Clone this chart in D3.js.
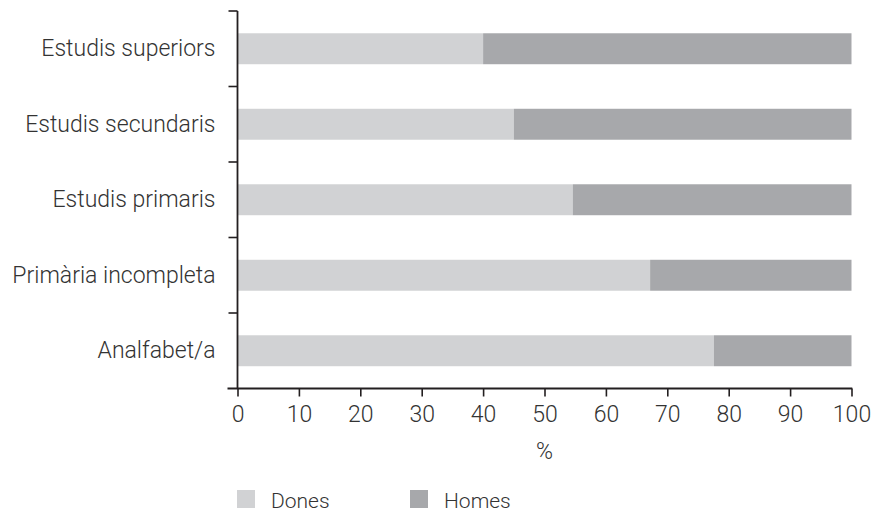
<!DOCTYPE html>
<html>
<head>
<meta charset="utf-8">
<script src="https://cdn.jsdelivr.net/npm/d3@7"></script>
<style>
  html, body { margin: 0; padding: 0; background: #fff; }
  svg { display: block; }
  text { font-family: Roboto, "Liberation Sans", Arial, sans-serif; font-weight: 300; fill: #333; }
</style>
</head>
<body>
<svg id="chart" width="875" height="513"></svg>
<script>
const categories = ["Estudis superiors", "Estudis secundaris", "Estudis primaris", "Primària incompleta", "Analfabet/a"];
const dones = [40.0, 45.0, 54.6, 67.2, 77.6];
const homes = [60.0, 55.0, 45.4, 32.8, 22.4];
const seriesNames = ["Dones", "Homes"];
const seriesColors = ["#d1d2d4", "#a7a8ab"];
const xTicks = [0, 10, 20, 30, 40, 50, 60, 70, 80, 90, 100];
const xLabel = "%";

const svg = d3.select("#chart");
const mLeft = 237.5, mRight = 851.5, mTop = 11, mBottom = 388.5;

const x = d3.scaleLinear().domain([0, 100]).range([mLeft, mRight]);
const y = d3.scaleBand().domain(categories).range([mTop, mBottom])
  .paddingInner(0.59).paddingOuter(0.295);

const rows = categories.map((c, i) => ({ cat: c, vals: [dones[i], homes[i]] }));
const stacked = d3.stack().keys([0, 1]).value((d, k) => d.vals[k])(rows);

svg.append("g").selectAll("g").data(stacked).join("g")
  .attr("fill", (d, i) => seriesColors[i])
  .selectAll("rect").data(d => d).join("rect")
  .attr("x", d => x(d[0]))
  .attr("width", d => x(Math.min(d[1], 100)) - x(d[0]))
  .attr("y", d => y(d.data.cat))
  .attr("height", y.bandwidth());

const ff = "Roboto, 'Liberation Sans', Arial, sans-serif";

// x axis
const xAxis = svg.append("g").attr("transform", `translate(0,${mBottom})`)
  .call(d3.axisBottom(x).tickValues(xTicks).tickSize(8).tickPadding(9).tickFormat(d3.format("d")));
xAxis.select(".domain").remove();
xAxis.selectAll(".tick line").attr("stroke", "#231f20").attr("stroke-width", 1.6);
xAxis.selectAll(".tick text").attr("font-size", 23).attr("fill", "#333")
  .style("font-family", ff).style("font-weight", 300);
svg.append("line").attr("x1", mLeft - 10).attr("x2", mRight + 0.8)
  .attr("y1", mBottom).attr("y2", mBottom).attr("stroke", "#231f20").attr("stroke-width", 1.8);

// y axis
const yAxis = svg.append("g").attr("transform", `translate(${mLeft},0)`)
  .call(d3.axisLeft(y).tickSize(0).tickPadding(22));
yAxis.select(".domain").remove();
yAxis.selectAll(".tick text").attr("font-size", 23).attr("fill", "#333")
  .style("font-family", ff).style("font-weight", 300);
svg.append("line").attr("x1", mLeft).attr("x2", mLeft)
  .attr("y1", mTop).attr("y2", mBottom).attr("stroke", "#231f20").attr("stroke-width", 1.8);
const half = y.step() * y.paddingInner() / 2;
const bounds = [mTop].concat(categories.slice(1).map(c => y(c) - half));
svg.append("g").selectAll("line").data(bounds).join("line")
  .attr("x1", mLeft - 9).attr("x2", mLeft).attr("y1", d => d).attr("y2", d => d)
  .attr("stroke", "#231f20").attr("stroke-width", 1.6);

// x label
svg.append("text").attr("x", (mLeft + mRight) / 2).attr("y", 459)
  .attr("text-anchor", "middle").attr("font-size", 23).text(xLabel);

// legend
const legX = [237, 410];
const lg = svg.append("g").selectAll("g").data(seriesNames).join("g")
  .attr("transform", (d, i) => `translate(${legX[i]},490)`);
lg.append("rect").attr("width", 18).attr("height", 18).attr("fill", (d, i) => seriesColors[i]);
lg.append("text").attr("x", 34).attr("y", 17.5).attr("font-size", 21).text(d => d);
</script>
</body>
</html>
